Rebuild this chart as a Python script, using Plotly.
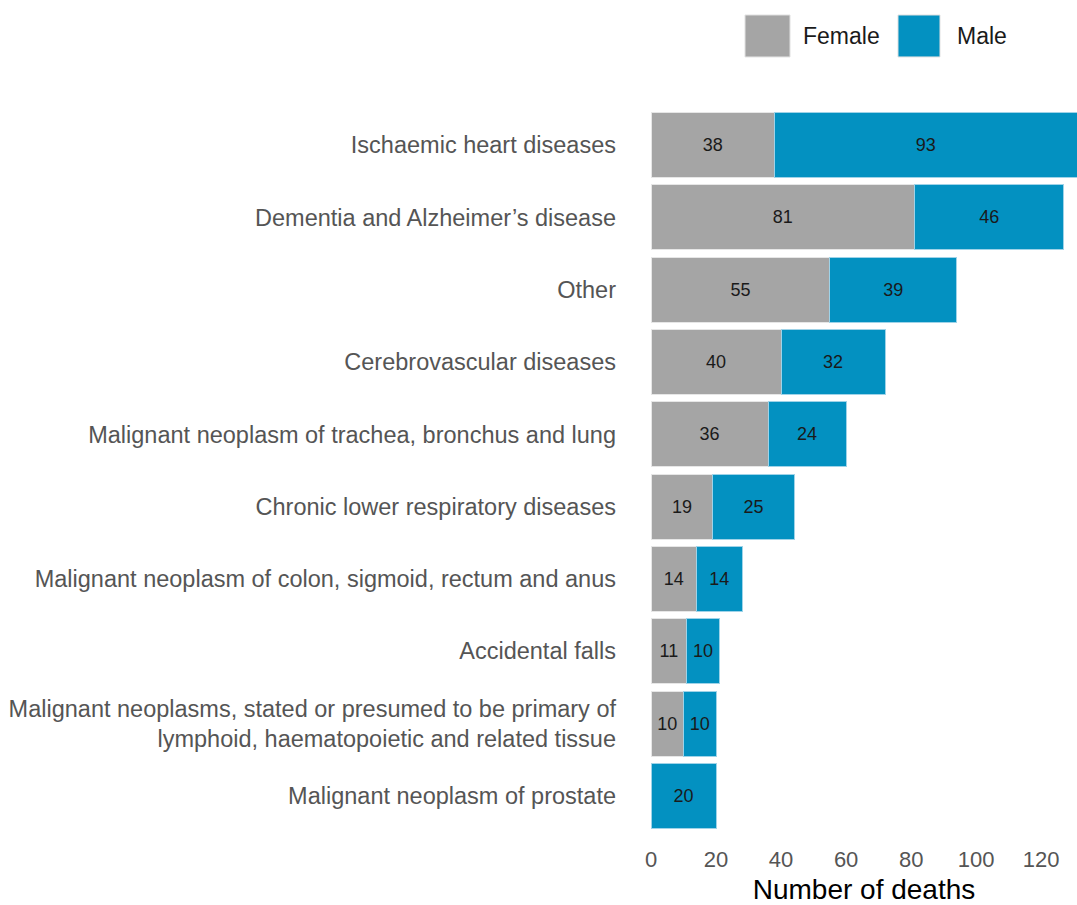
import plotly.graph_objects as go

categories = [
    "Ischaemic heart diseases",
    "Dementia and Alzheimer’s disease",
    "Other",
    "Cerebrovascular diseases",
    "Malignant neoplasm of trachea, bronchus and lung",
    "Chronic lower respiratory diseases",
    "Malignant neoplasm of colon, sigmoid, rectum and anus",
    "Accidental falls",
    "Malignant neoplasms, stated or presumed to be primary of<br>lymphoid, haematopoietic and related tissue",
    "Malignant neoplasm of prostate",
]
female = [38, 81, 55, 40, 36, 19, 14, 11, 10, 0]
male = [93, 46, 39, 32, 24, 25, 14, 10, 10, 20]
x_ticks = [0, 20, 40, 60, 80, 100, 120]

FEMALE_C = "#a5a5a5"
MALE_C = "#0391c1"
FONT = "Liberation Sans, Arial, sans-serif"

fig = go.Figure()
fig.add_trace(go.Bar(
    y=categories, x=female, name="Female", orientation="h",
    marker=dict(color=FEMALE_C, line=dict(color="#e6e6e6", width=1)),
    text=[str(v) if v else "" for v in female], textposition="inside",
    insidetextanchor="middle", textangle=0,
    textfont=dict(color="#1a1a1a", size=18, family=FONT),
    showlegend=False,
))
fig.add_trace(go.Bar(
    y=categories, x=male, name="Male", orientation="h",
    marker=dict(color=MALE_C, line=dict(color="#9fd3e8", width=1)),
    text=[str(v) for v in male], textposition="inside",
    insidetextanchor="middle", textangle=0,
    textfont=dict(color="#1a1a1a", size=18, family=FONT),
    showlegend=False,
))

# legend drawn as layout decoration
legend_items = [("Female", FEMALE_C, 0.2207, 0.3263, 0.025),
                ("Male", MALE_C, 0.5798, 0.6784, 0.035)]
shapes = []
annotations = []
for name, col, x0, x1, gap in legend_items:
    shapes.append(dict(type="rect", xref="paper", yref="paper", x0=x0, x1=x1,
                       y0=1.072, y1=1.130, fillcolor=col,
                       line=dict(color="#e0e0e0", width=1)))
    annotations.append(dict(text=name, xref="paper", yref="paper", x=x1 + gap,
                            y=1.101, xanchor="left", yanchor="middle", showarrow=False,
                            font=dict(size=23, color="#1a1a1a", family=FONT)))

fig.update_layout(
    barmode="stack", bargap=0.1,
    width=1077, height=905,
    margin=dict(l=651, r=0, t=109, b=73, pad=0),
    plot_bgcolor="white", paper_bgcolor="white",
    font=dict(family=FONT),
    shapes=shapes, annotations=annotations,
)
fig.update_xaxes(
    range=[0, 131], tickvals=x_ticks, showgrid=False, zeroline=False,
    showline=False, ticks="", ticklabelstandoff=12,
    tickfont=dict(size=22, color="#555555", family=FONT),
    title=dict(text="Number of deaths", font=dict(size=28, color="#000000", family=FONT), standoff=9),
)
fig.update_yaxes(
    categoryorder="array", categoryarray=categories, autorange="reversed",
    showgrid=False, zeroline=False, showline=False, ticks="",
    ticklabelstandoff=34,
    tickfont=dict(size=23.5, color="#555555", family=FONT),
)

fig.write_html("out.html",
               config={"displayModeBar": False},
               post_script="document.body.style.margin='0';document.body.style.overflow='hidden';")
